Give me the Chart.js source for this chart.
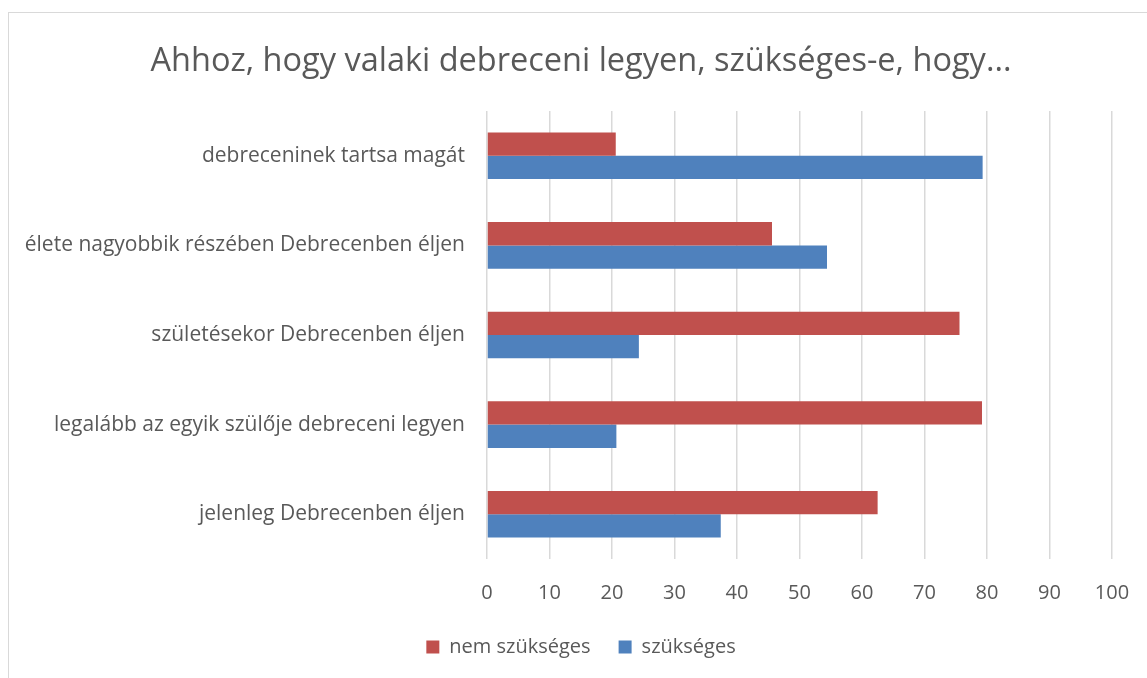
<!DOCTYPE html>
<html>
<head>
<meta charset="utf-8">
<script src="https://cdn.jsdelivr.net/npm/chart.js@4/dist/chart.umd.min.js"></script>
<style>
  html, body { margin: 0; padding: 0; background: #fff; overflow: hidden; }
  #frame { position: absolute; left: 8px; top: 12px; width: 1200px; height: 700px; border-left: 1px solid #d9d9d9; border-top: 1px solid #d9d9d9; }
  #wrap { position: absolute; left: 0; top: 0; width: 1162px; height: 678px; }
</style>
</head>
<body>
<div id="frame"></div>
<div id="wrap"><canvas id="chart"></canvas></div>
<script>
// Chart data
const categories = [
    'debreceninek tartsa magát',
    'élete nagyobbik részében Debrecenben éljen',
    'születésekor Debrecenben éljen',
    'legalább az egyik szülője debreceni legyen',
    'jelenleg Debrecenben éljen'
];
const nemSzukseges = [20.6, 45.6, 75.6, 79.2, 62.5];
const szukseges = [79.3, 54.4, 24.3, 20.7, 37.4];
const seriesNames = ['nem szükséges', 'szükséges'];
const xTicks = [0, 10, 20, 30, 40, 50, 60, 70, 80, 90, 100];

const FONT = "'Open Sans', sans-serif";
const TEXT = '#595959';

new Chart(document.getElementById('chart'), {
    type: 'bar',
    data: {
        labels: categories,
        datasets: [
            { label: seriesNames[0], data: nemSzukseges, backgroundColor: '#C0504D', borderWidth: 0 },
            { label: seriesNames[1], data: szukseges, backgroundColor: '#4F81BD', borderWidth: 0 }
        ]
    },
    options: {
        indexAxis: 'y',
        responsive: true,
        maintainAspectRatio: false,
        animation: false,
        layout: { padding: { left: 0, right: 0, top: 0, bottom: 11 } },
        datasets: { bar: { categoryPercentage: 0.52, barPercentage: 1 } },
        scales: {
            x: {
                min: 0, max: 100,
                afterBuildTicks: (scale) => { scale.ticks = xTicks.map(v => ({ value: v })); },
                afterFit: (scale) => { scale.height = 50; },
                grid: { color: '#d9d9d9', lineWidth: 1.5, drawTicks: false },
                border: { display: false },
                ticks: { color: TEXT, font: { family: FONT, size: 20 }, padding: 22 }
            },
            y: {
                afterFit: (scale) => { scale.width = 487; },
                grid: { display: false },
                border: { display: false },
                ticks: { color: TEXT, font: { family: FONT, size: 21 }, padding: 14 }
            },
            // empty spacer on the right so the plot ends at 100 like the original
            yRight: {
                type: 'category',
                position: 'right',
                afterFit: (scale) => { scale.width = 50; },
                grid: { display: false },
                border: { display: false },
                ticks: { display: false }
            }
        },
        plugins: {
            title: {
                display: true,
                text: 'Ahhoz, hogy valaki debreceni legyen, szükséges-e, hogy...',
                color: TEXT,
                font: { family: FONT, size: 32.5, weight: 'normal' },
                padding: { top: 42, bottom: 30 }
            },
            legend: {
                position: 'bottom',
                labels: { color: TEXT, font: { family: FONT, size: 20 }, boxWidth: 13, boxHeight: 13, padding: 28 }
            },
            tooltip: { enabled: false }
        }
    }
});
</script>
</body>
</html>
